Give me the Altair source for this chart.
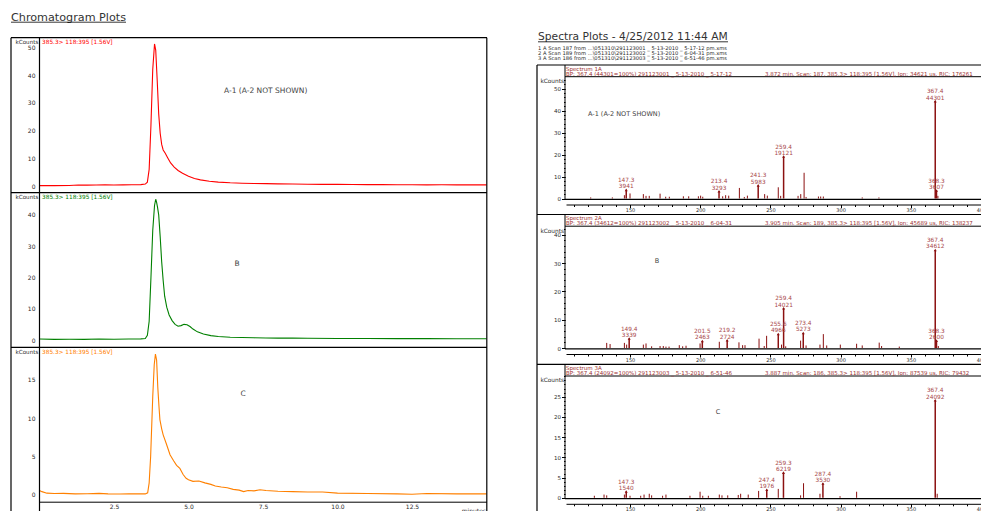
import altair as alt
import pandas as pd

# ---------------- chromatogram traces (minutes, kCounts) ----------------
a_min = [0.00, 0.50, 1.00, 1.30, 1.60, 1.90, 2.20, 2.50, 2.80, 3.10, 3.40, 3.55, 3.62, 3.68,
         3.74, 3.80, 3.86, 3.90, 3.95, 4.00, 4.05, 4.10, 4.15, 4.22, 4.30, 4.40, 4.52, 4.65,
         4.80, 5.00, 5.20, 5.40, 5.70, 6.00, 6.40, 6.80, 7.20, 7.60, 8.00, 8.50, 9.00, 9.50,
         10.0, 10.5, 11.0, 11.5, 12.0, 12.5, 13.0, 13.5, 14.0, 14.5, 15.0]
a_kc = [0.15, 0.15, 0.20, 0.35, 0.30, 0.35, 0.40, 0.35, 0.40, 0.45, 0.50, 0.70, 1.4, 6.0,
        22.0, 42.0, 51.2, 49.0, 38.0, 26.0, 19.0, 15.0, 13.0, 11.8, 10.2, 8.3, 6.8, 5.6,
        4.6, 3.5, 2.7, 2.2, 1.7, 1.4, 1.15, 1.0, 0.9, 0.85, 0.75, 0.7, 0.65, 0.6,
        0.6, 0.55, 0.5, 0.5, 0.45, 0.45, 0.4, 0.45, 0.4, 0.4, 0.4]

b_min = [0.00, 0.50, 1.00, 1.50, 2.00, 2.50, 3.00, 3.40, 3.55, 3.62, 3.68, 3.74, 3.80, 3.86,
         3.90, 3.93, 3.96, 4.00, 4.05, 4.10, 4.15, 4.20, 4.27, 4.35, 4.45, 4.55, 4.65, 4.75,
         4.85, 4.95, 5.05, 5.15, 5.30, 5.50, 5.75, 6.00, 6.40, 6.80, 7.20, 7.60, 8.00, 8.50,
         9.00, 10.0, 11.0, 12.0, 13.0, 14.0, 15.0]
b_kc = [0.3, 0.2, 0.25, 0.2, 0.3, 0.25, 0.3, 0.35, 0.5, 1.5, 6.0, 20.0, 35.0, 43.0,
        45.0, 44.0, 42.5, 40.0, 33.0, 25.0, 19.0, 14.0, 10.5, 8.0, 6.2, 5.0, 4.4, 4.6,
        5.0, 4.9, 4.3, 3.5, 2.6, 1.9, 1.4, 1.1, 0.9, 0.8, 0.7, 0.65, 0.6, 0.6,
        0.55, 0.5, 0.5, 0.45, 0.45, 0.4, 0.4]

c_min = [0.00, 0.08, 0.25, 0.50, 0.80, 1.20, 1.60, 2.00, 2.30, 2.70, 3.00, 3.30, 3.55, 3.63,
         3.68, 3.73, 3.80, 3.85, 3.89, 3.93, 3.97, 4.01, 4.04, 4.10, 4.15, 4.25, 4.38, 4.50,
         4.60, 4.71, 4.82, 4.92, 5.00, 5.15, 5.35, 5.55, 5.75, 5.90, 6.10, 6.30, 6.50, 6.70,
         6.85, 7.00, 7.20, 7.40, 7.60, 8.00, 8.50, 9.00, 9.50, 10.0, 11.0, 12.0, 12.5, 13.0,
         14.0, 15.0]
c_kc = [0.5, 0.35, 0.15, 0.10, 0.12, 0.05, 0.08, 0.12, 0.05, 0.03, 0.08, 0.05, 0.05, 0.2,
        1.5, 5.0, 12.8, 17.0, 18.4, 17.6, 14.0, 11.5, 9.8, 8.6, 7.8, 6.7, 5.2, 4.4,
        3.8, 3.4, 2.6, 2.1, 1.9, 1.7, 1.75, 1.5, 1.3, 1.1, 0.95, 0.85, 0.65, 0.55,
        0.35, 0.5, 0.45, 0.6, 0.5, 0.4, 0.35, 0.3, 0.3, 0.15, 0.1, 0.05, 0.0, 0.1,
        0.05, 0.05]

# ---------------- spectra (m/z, kCounts) ----------------
s1_mz = [122.0, 137.4, 146.0, 150.0, 159.5, 161.4, 163.7, 171.4, 175.4, 178.0, 188.0, 191.8,
         198.7, 200.3, 201.8, 216.0, 218.1, 220.3, 227.9, 231.4, 233.6, 245.9, 247.8, 255.6,
         257.3, 269.7, 271.6, 274.0, 275.4, 284.2, 285.8, 287.7, 315.4, 327.3, 369.3]
s1_kc = [0.5, 0.5, 1.5, 2.3, 2.0, 1.2, 1.2, 2.2, 0.8, 0.8, 1.0, 1.0,
         1.0, 1.3, 0.8, 1.0, 1.5, 1.3, 4.8, 0.7, 1.3, 2.0, 1.3, 5.1,
         1.2, 1.2, 2.0, 11.7, 0.7, 0.9, 0.9, 0.9, 0.5, 0.5, 1.2]
s1_peak_mz = [147.3, 213.4, 241.3, 259.4, 367.4, 368.3]
s1_peak_kc = [3.941, 3.293, 5.983, 19.121, 44.301, 3.607]

s2_mz = [133.4, 135.8, 146.0, 147.6, 159.5, 161.4, 165.4, 171.4, 173.7, 175.6, 177.8, 185.1,
         187.5, 189.9, 199.9, 213.6, 227.6, 230.2, 231.9, 241.9, 245.6, 247.3, 257.9, 260.9,
         271.5, 275.4, 285.3, 287.7, 290.1, 299.8, 311.4, 315.4, 327.5, 329.2, 341.8, 369.6]
s2_kc = [1.8, 1.4, 1.8, 1.2, 1.2, 1.6, 0.6, 0.7, 0.7, 0.5, 0.5, 1.0,
         0.6, 0.8, 1.6, 2.2, 2.0, 1.0, 1.0, 3.3, 0.7, 4.3, 1.2, 0.6,
         2.6, 0.9, 1.2, 4.9, 0.9, 1.2, 1.5, 0.9, 1.9, 0.7, 0.5, 0.7]
s2_peak_mz = [149.4, 201.5, 219.2, 255.6, 259.4, 273.4, 367.4, 368.3]
s2_peak_kc = [3.339, 2.463, 2.724, 4.966, 14.021, 5.273, 34.612, 2.600]

s3_mz = [124.6, 131.5, 133.4, 146.0, 150.0, 157.6, 160.0, 163.7, 165.4, 173.2, 175.6, 192.7,
         199.9, 201.8, 205.8, 213.6, 215.5, 219.6, 227.1, 228.8, 234.2, 241.6, 255.6, 271.5,
         273.6, 285.3, 299.6, 311.4, 368.8]
s3_kc = [0.5, 0.8, 0.6, 0.8, 0.5, 0.5, 0.8, 1.0, 0.6, 0.5, 0.8, 0.5,
         1.5, 0.5, 0.5, 0.8, 0.6, 0.6, 0.7, 1.0, 0.8, 1.7, 2.2, 0.6,
         3.6, 1.0, 0.4, 1.5, 1.0]
s3_peak_mz = [147.3, 247.4, 259.3, 287.4, 367.4]
s3_peak_kc = [1.540, 1.976, 6.219, 3.530, 24.092]

scan_lines = [
    "1 A  Scan 187 from ...\\051310\\291123001 _ 5-13-2010 _ 5-17-12 pm.xms",
    "2 A  Scan 189 from ...\\051310\\291123002 _ 5-13-2010 _ 6-04-31 pm.xms",
    "3 A  Scan 186 from ...\\051310\\291123003 _ 5-13-2010 _ 6-51-46 pm.xms",
]
bp_lines = [
    "BP: 367.4 (44301=100%) 291123001 _ 5-13-2010 _ 5-17-12",
    "BP: 367.4 (34612=100%) 291123002 _ 5-13-2010 _ 6-04-31",
    "BP: 367.4 (24092=100%) 291123003 _ 5-13-2010 _ 6-51-46",
]
info_lines = [
    "3.872 min. Scan: 187, 385.3> 118:395 [1.56V], Ion: 34621 us, RIC: 176261",
    "3.905 min. Scan: 189, 385.3> 118:395 [1.56V], Ion: 45689 us, RIC: 138237",
    "3.887 min. Scan: 186, 385.3> 118:395 [1.56V], Ion: 87539 us, RIC: 79432",
]
notes = ["A-1 (A-2 NOT SHOWN)", "B", "C"]

# ---------------- styling / layout ----------------
W, H = 981, 511
FONT = "DejaVu Sans"
INK = "#2a2a2a"
SPEC_RED = "#8b1010"
SPEC_TEXT = "#a8484a"
HEAD_TEXT = "#9e2f2f"
one = pd.DataFrame({"k": [0]})


def text(s, x, y, size, color=INK, align="left", baseline="middle"):
    return alt.Chart(one).mark_text(
        text=s, font=FONT, fontSize=size, color=color, align=align, baseline=baseline
    ).encode(x=alt.value(x), y=alt.value(y))


def hline(y, x1, x2, w=1.0):
    return alt.Chart(one).mark_rule(color="#000", strokeWidth=w).encode(
        x=alt.value(x1), x2=alt.value(x2), y=alt.value(y), y2=alt.value(y))


def vline(x, y1, y2, w=1.0):
    return alt.Chart(one).mark_rule(color="#000", strokeWidth=w).encode(
        x=alt.value(x), x2=alt.value(x), y=alt.value(y1), y2=alt.value(y2))


def axis(orient, offset, values, size, tick_size=0.0, ticks=True, labels=True,
         domain=False, pad=2.0, fmt=None):
    kw = dict(orient=orient, offset=offset, values=values, grid=False, title=None,
              domain=domain, domainColor="#000", domainWidth=1, ticks=ticks,
              tickSize=tick_size, tickColor="#000", labels=labels, labelFont=FONT,
              labelFontSize=size, labelColor=INK, labelPadding=pad,
              labelOverlap=False, labelFlush=False)
    if fmt:
        kw["format"] = fmt
    return alt.Axis(**kw)


layers = []

# ---------------- left column: chromatograms ----------------
layers.append(text("Chromatogram Plots", 11, 20.5, 11.2, "#333", baseline="alphabetic"))
layers.append(hline(22.2, 11, 126, 0.8))

chrom_x = alt.Scale(domain=[0, 15], range=[39.5, 486.5], nice=False, zero=False)
chrom = [
    (a_min, a_kc, "#ff0000", 186.0, 37.7, 53.46, [0, 10, 20, 30, 40, 50], (224, 91), "left"),
    (b_min, b_kc, "#008000", 340.0, 192.7, 47.1, [0, 10, 20, 30, 40], (237, 264), "center"),
    (c_min, c_kc, "#ff8000", 494.3, 347.3, 19.29, [0, 5, 10, 15], (243, 393.5), "center"),
]
for i, (tm, kc, col, y0, top, dmax, yt, (nx, ny), nal) in enumerate(chrom):
    df = pd.DataFrame({"t": tm, "kc": kc})
    xax = axis("bottom", 501.7 - H, [2.5, 5.0, 7.5, 10.0, 12.5], 6, ticks=False,
               domain=True, pad=2, fmt=".1f") if i == 2 else None
    layers.append(alt.Chart(df).mark_line(color=col, strokeWidth=1.1).encode(
        x=alt.X("t:Q", scale=chrom_x, axis=xax),
        y=alt.Y("kc:Q", scale=alt.Scale(domain=[0, dmax], range=[y0, top], nice=False, zero=False),
                axis=axis("left", -39.5, yt, 6, ticks=False, pad=4.5)),
    ))
    layers.append(text("kCounts", 38.3, top + 4.3, 5.6, INK, align="right"))
    layers.append(text("385.3> 118:395 [1.56V]", 42, top + 4.3, 5.8, col))
    layers.append(text(notes[i], nx, ny, 7.5, "#444", align=nal))
    if i > 0:
        layers.append(hline(top, 11, 487, 1.2))

layers.append(hline(37.7, 11, 487, 1.2))
layers.append(vline(11, 37.7, 515, 1.2))
layers.append(vline(39.5, 37.7, 515, 1.2))
layers.append(vline(486.8, 37.7, 515, 1.2))
layers.append(text("minutes", 486, 508, 6, INK, align="right", baseline="top"))

# ---------------- right column: spectra ----------------
layers.append(text("Spectra Plots - 4/25/2012 11:44 AM", 538, 40, 10.7, "#333", baseline="alphabetic"))
layers.append(hline(41.8, 538, 728, 0.8))
for j, line in enumerate(scan_lines):
    layers.append(text(line, 538, 48.0 + 5.2 * j, 5.2, INK))

spec_x = alt.Scale(domain=[104.4, 400], range=[566, 981], nice=False, zero=False)
spectra = [
    (s1_mz, s1_kc, s1_peak_mz, s1_peak_kc, 65.0, 55.4, list(range(0, 51, 10)), list(range(0, 56, 2)), (588, 114), "left"),
    (s2_mz, s2_kc, s2_peak_mz, s2_peak_kc, 214.5, 43.0, list(range(0, 41, 10)), list(range(0, 43, 2)), (657, 261), "center"),
    (s3_mz, s3_kc, s3_peak_mz, s3_peak_kc, 364.3, 30.1, list(range(0, 26, 5)), list(range(0, 31, 1)), (718, 412), "center"),
]
for i, (mz, kc, pmz, pkc, T, dmax, major, minor, (nx, ny), nal) in enumerate(spectra):
    y_scale = alt.Scale(domain=[0, dmax], range=[T + 133.5, T + 11.7], nice=False, zero=False)
    x_off = T + 139.5 - H
    bars = pd.DataFrame({"mz": mz, "kc": kc})
    peaks = pd.DataFrame({"mz": pmz, "kc": pkc})
    peaks["mz_label"] = [f"{v:.1f}" for v in pmz]
    peaks["count_label"] = [f"{round(v * 1000)}" for v in pkc]

    layers.append(alt.Chart(bars).mark_rule(color=SPEC_RED, strokeWidth=1).encode(
        x=alt.X("mz:Q", scale=spec_x,
                axis=axis("bottom", x_off, [150, 200, 250, 300, 350, 400], 5, tick_size=3,
                          domain=True, pad=0)),
        y=alt.Y("kc:Q", scale=y_scale, axis=axis("left", -565, major, 5.5, tick_size=3.5, pad=1)),
        y2=alt.datum(0),
    ))
    layers.append(alt.Chart(peaks).mark_rule(color=SPEC_RED, strokeWidth=1.5).encode(
        x=alt.X("mz:Q", scale=spec_x,
                axis=axis("bottom", x_off, list(range(110, 401, 10)), 5, tick_size=2, labels=False)),
        y=alt.Y("kc:Q", scale=y_scale, axis=axis("left", -565, minor, 5, tick_size=1.5, labels=False)),
        y2=alt.datum(0),
    ))
    layers.append(alt.Chart(peaks).mark_point(shape="triangle-up", filled=True, size=9,
                                              color=SPEC_RED, opacity=1).encode(
        x=alt.X("mz:Q", scale=spec_x, axis=None),
        y=alt.Y("kc:Q", scale=y_scale, axis=None),
    ))
    for field, dy in (("mz_label", -7.9), ("count_label", -1.6)):
        layers.append(alt.Chart(peaks).mark_text(font=FONT, fontSize=5.8, color=SPEC_TEXT,
                                                 baseline="alphabetic", dy=dy).encode(
            x=alt.X("mz:Q", scale=spec_x, axis=None),
            y=alt.Y("kc:Q", scale=y_scale, axis=None),
            text=f"{field}:N",
        ))

    # panel frame and header band
    layers.append(hline(T, 537, 981, 1.2))
    layers.append(hline(T + 11.7, 565, 981, 1.0))
    layers.append(hline(T + 134.3, 565, 981, 1.2))
    layers.append(vline(565, T, T + 134.3, 1.0))
    layers.append(text(f"Spectrum {i + 1}A", 566, T + 3.6, 5.5, HEAD_TEXT))
    layers.append(text(bp_lines[i], 566, T + 8.6, 5.5, HEAD_TEXT))
    layers.append(text(info_lines[i], 765, T + 8.6, 5.5, HEAD_TEXT))
    layers.append(text("kCounts", 564, T + 16, 5.8, INK, align="right"))
    layers.append(text(notes[i], nx, ny, 6.5, "#444", align=nal))

layers.append(vline(537, 65, 515, 1.2))

chart = alt.layer(*layers).resolve_scale(
    x="independent", y="independent"
).properties(
    width=W, height=H, padding=0, autosize=alt.AutoSizeParams(type="none"),
    background="white",
).configure_view(stroke=None)

chart.save("out.html", embed_options={"renderer": "svg", "actions": False})
